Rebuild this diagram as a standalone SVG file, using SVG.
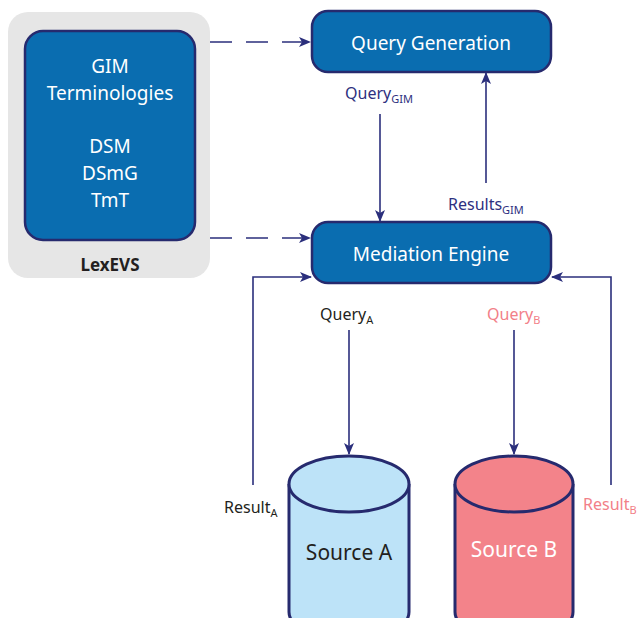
<svg xmlns="http://www.w3.org/2000/svg" width="640" height="618" viewBox="0 0 640 618">
<defs>
<style>
.box{fill:#0a6db0;stroke:#262a6e;stroke-width:2.5}
.wt{fill:#ffffff;font-family:"Noto Sans","Open Sans",sans-serif;font-size:19px;text-anchor:middle}
.lbl{font-family:"Noto Sans","Open Sans",sans-serif;font-size:16px}
.sub{font-size:11px}
.navy{fill:#2e3080}
.blk{fill:#231f20}
.pink{fill:#f28088}
.ln{fill:none;stroke:#2b2f7c;stroke-width:1.6}
.dash{stroke-dasharray:22 14}
.cyl{stroke:#262a6e;stroke-width:3}
</style>
<marker id="ah" viewBox="0 0 12 10" refX="11" refY="5" markerWidth="12" markerHeight="10" markerUnits="userSpaceOnUse" orient="auto">
<path d="M0,0 L12,5 L0,10 L3,5 z" fill="#2b2f7c"/>
</marker>
</defs>
<rect width="640" height="618" fill="#ffffff"/>

<g id="lexevs">
<rect x="8" y="12" width="202" height="266" rx="20" fill="#e6e6e6"/>
<rect class="box" x="25" y="31" width="170" height="209" rx="18"/>
<text class="wt" x="110" y="73">GIM</text>
<text class="wt" x="110" y="100">Terminologies</text>
<text class="wt" x="110" y="153">DSM</text>
<text class="wt" x="110" y="180">DSmG</text>
<text class="wt" x="110" y="207">TmT</text>
<text x="110" y="271" font-family="'Noto Sans','Open Sans',sans-serif" font-size="17" font-weight="bold" fill="#231f20" text-anchor="middle">LexEVS</text>
</g>

<g id="query-generation">
<rect class="box" x="312" y="11" width="239" height="61" rx="16"/>
<text class="wt" x="431" y="50">Query Generation</text>
</g>

<g id="mediation-engine">
<rect class="box" x="312" y="222" width="239" height="61" rx="16"/>
<text class="wt" x="431" y="261">Mediation Engine</text>
</g>

<g id="source-a">
<path class="cyl" d="M289,484 L289,612 A60,28 0 0 0 409,612 L409,484" fill="#bde3f8"/>
<ellipse class="cyl" cx="349" cy="484" rx="60" ry="28" fill="#bde3f8"/>
<text x="349" y="560" font-family="'Noto Sans','Open Sans',sans-serif" font-size="21" fill="#231f20" text-anchor="middle">Source A</text>
</g>

<g id="source-b">
<path class="cyl" d="M455,484 L455,612 A59,28 0 0 0 573,612 L573,484" fill="#f3838a"/>
<ellipse class="cyl" cx="514" cy="484" rx="59" ry="28" fill="#f3838a"/>
<text x="514" y="557" font-family="'Noto Sans','Open Sans',sans-serif" font-size="21" fill="#ffffff" text-anchor="middle">Source B</text>
</g>

<g id="connectors">
<path class="ln dash" d="M210,42 L310,42" marker-end="url(#ah)"/>
<path class="ln dash" d="M210,238 L310,238" marker-end="url(#ah)"/>
<path class="ln" d="M380,114 L380,221" marker-end="url(#ah)"/>
<path class="ln" d="M486,183 L486,73" marker-end="url(#ah)"/>
<path class="ln" d="M253,485 L253,277 L311,277" marker-end="url(#ah)"/>
<path class="ln" d="M611,485 L611,277 L552,277" marker-end="url(#ah)"/>
<path class="ln" d="M349,330 L349,454" marker-end="url(#ah)"/>
<path class="ln" d="M514,330 L514,454" marker-end="url(#ah)"/>
</g>

<g id="labels">
<text class="lbl navy" x="345" y="99">Query<tspan class="sub" dy="4">GIM</tspan></text>
<text class="lbl navy" x="448" y="210">Results<tspan class="sub" dy="4">GIM</tspan></text>
<text class="lbl blk" x="320" y="320">Query<tspan class="sub" dy="4">A</tspan></text>
<text class="lbl pink" x="487" y="320">Query<tspan class="sub" dy="4">B</tspan></text>
<text class="lbl blk" x="224" y="513">Result<tspan class="sub" dy="4">A</tspan></text>
<text class="lbl pink" x="583" y="510">Result<tspan class="sub" dy="4">B</tspan></text>
</g>
</svg>
